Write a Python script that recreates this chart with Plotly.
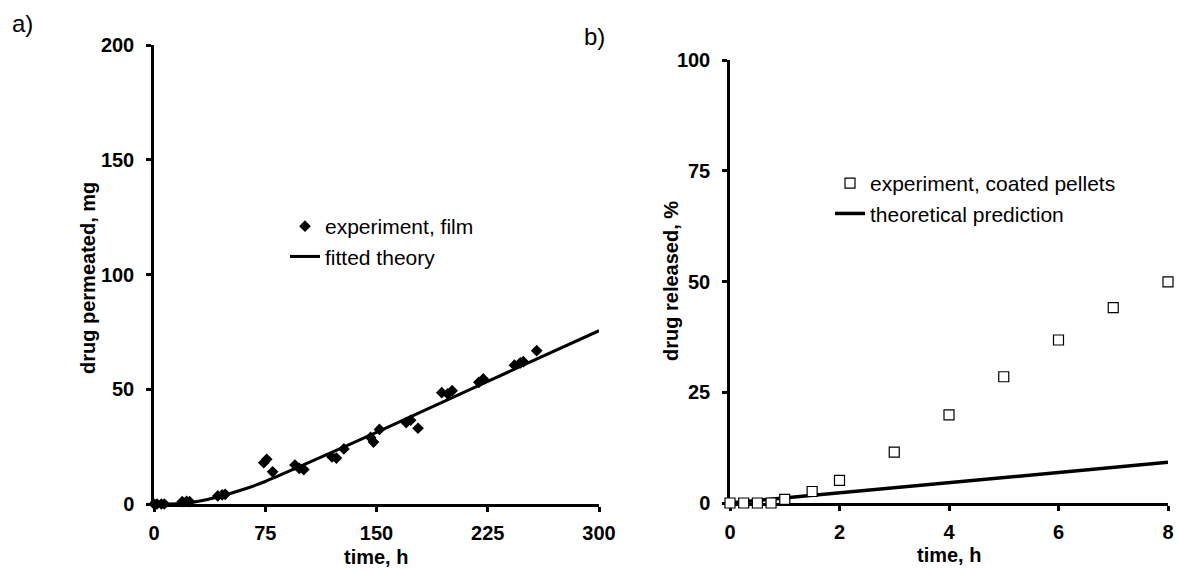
import plotly.graph_objects as go

# ---- panel a) data ----
film_time = [0, 2, 5, 7, 19, 22, 24, 43, 46, 48, 74, 76, 80, 95, 98, 101, 120, 123, 128,
             146, 148, 152, 170, 173, 178, 194, 198, 201, 219, 222, 243, 247, 249, 258]
film_mg = [0, 0, 0, 0, 1, 1.2, 1, 3.5, 4, 4.2, 18, 19.5, 14, 17, 15.5, 15, 20.5, 20, 24,
           29, 27, 32.5, 35.5, 36.5, 33, 48.5, 48, 49.4, 53, 54.5, 60.5, 61.5, 62, 66.8]
theory_a_time = [0, 10, 20, 30, 45, 60, 75, 100, 150, 200, 250, 300]
theory_a_mg = [0, 0, 0.3, 1.2, 3.4, 6.3, 9.8, 16.8, 31.2, 46.0, 60.8, 75.5]

# ---- panel b) data ----
pellet_time = [0, 0.25, 0.5, 0.75, 1, 1.5, 2, 3, 4, 5, 6, 7, 8]
pellet_pct = [0, 0, 0, 0, 0.8, 2.6, 5.1, 11.5, 19.9, 28.5, 36.8, 44.1, 49.9]
theory_b_time = [0, 8]
theory_b_pct = [0, 9.2]

xa_ticks = [0, 75, 150, 225, 300]
ya_ticks = [0, 50, 100, 150, 200]
xb_ticks = [0, 2, 4, 6, 8]
yb_ticks = [0, 25, 50, 75, 100]

FONT = "Arial, Liberation Sans, sans-serif"
W, H = 1178, 569


def px(v):
    return v / W


def py(v):
    return (H - v) / H


fig = go.Figure()
fig.add_trace(go.Scatter(x=film_time, y=film_mg, mode="markers", name="experiment, film",
                         marker=dict(symbol="diamond", size=9, color="black"),
                         cliponaxis=False, legend="legend", legendrank=1, xaxis="x", yaxis="y"))
fig.add_trace(go.Scatter(x=theory_a_time, y=theory_a_mg, mode="lines", name="fitted theory",
                         line=dict(color="black", width=3, shape="spline", smoothing=0.6),
                         cliponaxis=False, legend="legend", legendrank=2, xaxis="x", yaxis="y"))
fig.add_trace(go.Scatter(x=theory_b_time, y=theory_b_pct, mode="lines",
                         name="theoretical prediction",
                         line=dict(color="black", width=3.5),
                         cliponaxis=False, legend="legend2", legendrank=2, xaxis="x2", yaxis="y2"))
fig.add_trace(go.Scatter(x=pellet_time, y=pellet_pct, mode="markers",
                         name="experiment, coated pellets",
                         marker=dict(symbol="square", size=10, color="white",
                                     line=dict(color="black", width=1.2)),
                         cliponaxis=False, legend="legend2", legendrank=1, xaxis="x2", yaxis="y2"))

tickfont = dict(family=FONT, size=20, color="black", weight="bold")
titlefont = dict(family=FONT, size=20, color="black", weight="bold")
common = dict(showgrid=False, zeroline=False, showline=True, linecolor="black", linewidth=2.5,
              ticks="outside", ticklen=5, tickwidth=2.5, tickcolor="black", automargin=False,
              tickfont=tickfont, layer="below traces", fixedrange=True)

fig.update_layout(
    width=W, height=H,
    margin=dict(l=0, r=0, t=0, b=0, autoexpand=False),
    paper_bgcolor="white", plot_bgcolor="white",
    font=dict(family=FONT, color="black"),
    xaxis=dict(domain=[px(154), px(599)], range=[0, 300], tickvals=xa_ticks,
               anchor="y", ticklabelstandoff=4, **common),
    yaxis=dict(domain=[py(504), py(45)], range=[0, 200], tickvals=ya_ticks,
               anchor="x", ticklabelstandoff=8, **common),
    xaxis2=dict(domain=[px(730), px(1168)], range=[0, 8], tickvals=xb_ticks,
                anchor="y2", ticklabelstandoff=4, **common),
    yaxis2=dict(domain=[py(503), py(60)], range=[0, 100], tickvals=yb_ticks,
                anchor="x2", ticklabelstandoff=8, **common),
    legend=dict(x=px(285), y=py(206), xanchor="left", yanchor="top",
                font=dict(family=FONT, size=21, color="black"), bgcolor="rgba(0,0,0,0)",
                borderwidth=0),
    legend2=dict(x=px(830), y=py(163), xanchor="left", yanchor="top",
                 font=dict(family=FONT, size=21, color="black"), bgcolor="rgba(0,0,0,0)",
                 borderwidth=0),
    annotations=[
        dict(text="a)", x=px(22), y=py(23), xref="paper", yref="paper",
             xanchor="center", yanchor="middle",
             showarrow=False, font=dict(family=FONT, size=24, color="black")),
        dict(text="b)", x=px(594), y=py(37), xref="paper", yref="paper",
             xanchor="center", yanchor="middle",
             showarrow=False, font=dict(family=FONT, size=24, color="black")),
        dict(text="time, h", x=px(376), y=py(557), xref="paper", yref="paper",
             xanchor="center", yanchor="middle", showarrow=False, font=titlefont),
        dict(text="time, h", x=px(949), y=py(555), xref="paper", yref="paper",
             xanchor="center", yanchor="middle", showarrow=False, font=titlefont),
        dict(text="drug permeated, mg", x=px(88), y=py(278), xref="paper", yref="paper",
             xanchor="center", yanchor="middle", textangle=-90,
             showarrow=False, font=titlefont),
        dict(text="drug released, %", x=px(671), y=py(281), xref="paper", yref="paper",
             xanchor="center", yanchor="middle", textangle=-90,
             showarrow=False, font=titlefont),
    ],
)

fig.write_html("out.html", config={"displayModeBar": False},
               post_script="document.body.style.margin='0px';document.body.style.overflow='hidden';")
